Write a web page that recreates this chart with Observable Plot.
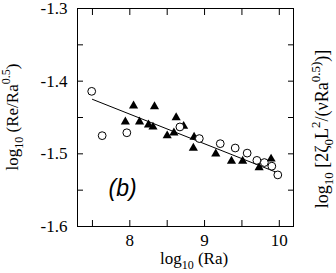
<!DOCTYPE html>
<html>
<head>
<meta charset="utf-8">
<script src="https://cdn.jsdelivr.net/npm/d3@7"></script>
<script src="https://cdn.jsdelivr.net/npm/@observablehq/plot@0.6"></script>
<style>
  html, body { margin: 0; padding: 0; background: #fff; }
  svg { display: block; }
</style>
</head>
<body>
<div id="chart"></div>
<script>
// open circles
const circleX = [7.49, 7.63, 7.96, 8.67, 8.93, 9.21, 9.41, 9.57, 9.70, 9.80, 9.90, 9.98];
const circleY = [-1.414, -1.475, -1.471, -1.463, -1.479, -1.486, -1.492, -1.499, -1.509, -1.512, -1.517, -1.529];
// filled triangles
const triX = [7.94, 8.05, 8.13, 8.25, 8.31, 8.33, 8.50, 8.59, 8.62, 8.72, 8.86, 8.85, 9.15, 9.36, 9.51, 9.73, 9.89];
const triY = [-1.456, -1.434, -1.456, -1.460, -1.463, -1.435, -1.475, -1.471, -1.450, -1.462, -1.477, -1.492, -1.500, -1.510, -1.510, -1.519, -1.507];
// fit line
const fitX = [7.5, 10.0];
const fitY = [-1.425, -1.527];
// ticks
const xMajor = [8, 9, 10];
const xAllTicks = [7.5, 8, 8.5, 9, 9.5, 10];
const yMajor = [-1.6, -1.5, -1.4, -1.3];
const yAllTicks = [-1.55, -1.5, -1.45, -1.4, -1.35];
const panelLabel = ["(b)"];

const circles = circleX.map((x, i) => ({x, y: circleY[i]}));
const tris = triX.map((x, i) => ({x, y: triY[i]}));
const fit = fitX.map((x, i) => ({x, y: fitY[i]}));

const blank = () => "";
const chart = Plot.plot({
  width: 336,
  height: 273,
  marginLeft: 77,
  marginRight: 43,
  marginTop: 8,
  marginBottom: 47,
  style: {fontFamily: "'Liberation Serif', serif", fontSize: "17px", background: "#fff", color: "#000"},
  x: {domain: [7.3, 10.19]},
  y: {domain: [-1.6, -1.3]},
  marks: [
    Plot.frame({stroke: "#000", strokeWidth: 1}),
    // inward ticks on all four sides
    Plot.axisX(xAllTicks, {anchor: "bottom", tickSize: 6, dy: -6, tickFormat: blank, label: null}),
    Plot.axisX(xAllTicks, {anchor: "top", tickSize: 6, dy: 6, tickFormat: blank, label: null}),
    Plot.axisY(yAllTicks, {anchor: "left", tickSize: 6, dx: 6, tickFormat: blank, label: null}),
    Plot.axisY(yAllTicks, {anchor: "right", tickSize: 6, dx: -6, tickFormat: blank, label: null}),
    // tick labels
    Plot.axisX(xMajor, {anchor: "bottom", tickSize: 0, tickPadding: 7, tickFormat: d => String(d), label: null}),
    Plot.axisY(yMajor, {anchor: "left", tickSize: 0, tickPadding: 10, tickFormat: d => d.toFixed(1), label: null}),
    Plot.line(fit, {x: "x", y: "y", stroke: "#000", strokeWidth: 1}),
    Plot.dot(tris, {x: "x", y: "y", symbol: "triangle", r: 3.4, fill: "#000", stroke: "none"}),
    Plot.dot(circles, {x: "x", y: "y", symbol: "circle", r: 3.9, fill: "#fff", stroke: "#000", strokeWidth: 1}),
    Plot.text(panelLabel, {frameAnchor: "bottom-left", dx: 31, dy: -31, textAnchor: "start",
      fontFamily: "'Liberation Sans', sans-serif", fontStyle: "italic", fontSize: 23})
  ]
});
document.getElementById("chart").appendChild(chart);

// axis titles with sub/superscripts
const svg = d3.select(chart);
function addLabel(transform, parts, size) {
  const t = svg.append("text")
    .attr("transform", transform)
    .attr("text-anchor", "middle")
    .attr("font-family", "'Liberation Serif', serif")
    .attr("font-size", size)
    .attr("fill", "#000");
  let cur = 0;
  for (const [s, shift] of parts) {
    const ts = t.append("tspan").text(s).attr("dy", shift - cur);
    if (shift !== 0) ts.attr("font-size", Math.round(size * 0.7));
    cur = shift;
  }
  if (cur !== 0) t.append("tspan").text("").attr("dy", -cur);
}
addLabel("translate(18,117) rotate(-90)", [["log", 0], ["10", 5], [" (Re/Ra", 0], ["0.5", -8], [")", 0]], 17);
addLabel("translate(194,264)", [["log", 0], ["10", 5], [" (Ra)", 0]], 17);
addLabel("translate(328,129) rotate(-90)", [["log", 0], ["10", 5], [" [2ζ", 0], ["0", 5], ["L", 0], ["2", -8], ["/(νRa", 0], ["0.5)", -8], [")]", 0]], 18);
</script>
</body>
</html>
